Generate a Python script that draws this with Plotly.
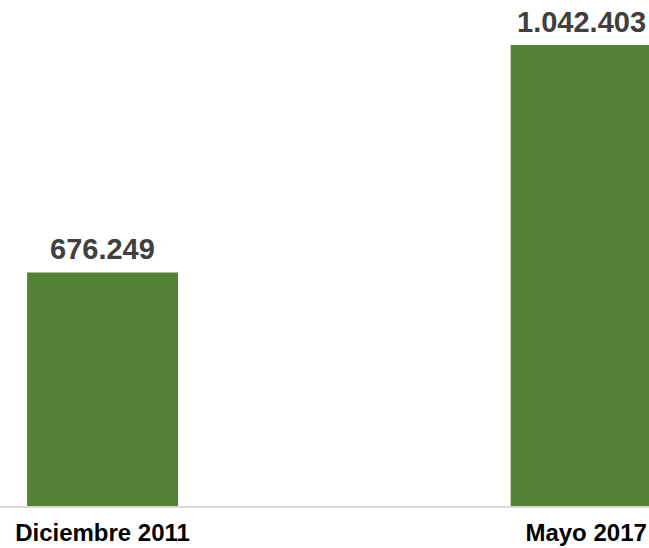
import plotly.graph_objects as go

categories = ["Diciembre 2011", "Mayo 2017"]
values = [676249, 1042403]
value_labels = ["676.249", "1.042.403"]

green = "#538135"

fig = go.Figure()
fig.add_trace(go.Bar(
    x=categories, y=values, marker=dict(color=green, line=dict(width=0)),
    width=0.312, hoverinfo="skip",
))

shifts = [0, -5]
for c, v, t, s in zip(categories, values, value_labels, shifts):
    fig.add_annotation(
        x=c, y=v, text=t, showarrow=False, yanchor="bottom", xanchor="center",
        yshift=5, xshift=s,
        font=dict(family="Liberation Sans, Arial", size=29, color="#404040", weight="bold"),
    )

fig.update_layout(
    width=649, height=548,
    margin=dict(l=0, r=0, t=0, b=42),
    plot_bgcolor="white", paper_bgcolor="white",
    showlegend=False,
    xaxis=dict(
        range=[-0.212, 1.130], showline=True, linecolor="#d9d9d9", linewidth=2,
        showgrid=False, ticks="", zeroline=False, ticklabelstandoff=4,
        tickfont=dict(family="Liberation Sans, Arial", size=24, color="#000000", weight="bold"),
    ),
    yaxis=dict(range=[300000, 1115000], visible=False, showgrid=False, zeroline=False),
)

fig.write_html(
    "out.html",
    config={"displayModeBar": False},
    post_script="document.body.style.margin='0';document.body.style.overflow='hidden';",
)
